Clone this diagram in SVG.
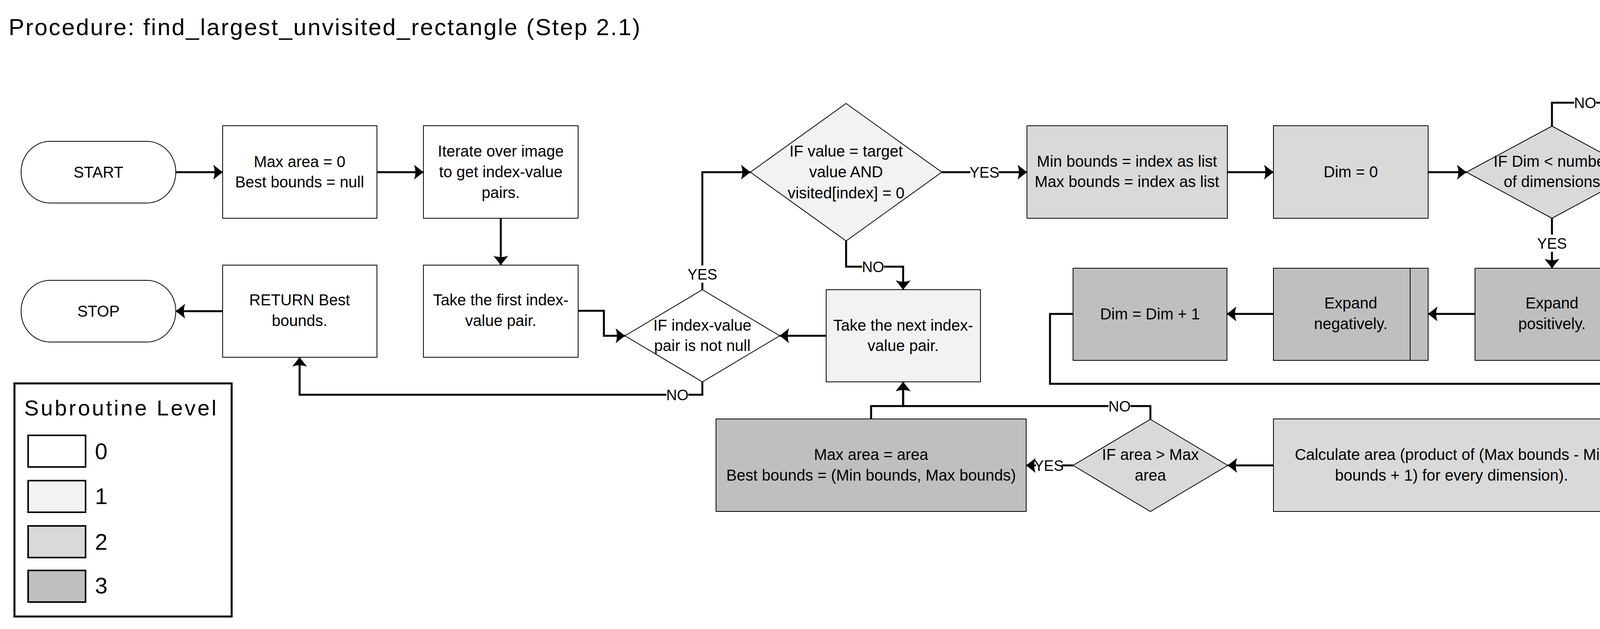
<svg xmlns="http://www.w3.org/2000/svg" width="4359" height="1611" viewBox="0 0 4359 1611">
<defs>
<style>
.t{font-family:"Liberation Sans",Arial,sans-serif;font-size:40px;text-anchor:middle;fill:#000}
.lb{font-family:"Liberation Sans",Arial,sans-serif;font-size:38px;text-anchor:middle;fill:#000}
.n{stroke:#000;stroke-width:2}
.l0{fill:#ffffff}.l1{fill:#f2f2f2}.l2{fill:#d9d9d9}.l3{fill:#bfbfbf}
.c{fill:none;stroke:#000;stroke-width:5;stroke-linejoin:miter}
.a{marker-end:url(#ah)}
.bg{fill:#fff}
.lg{stroke:#000;stroke-width:4}
.lt{font-family:"Liberation Sans",Arial,sans-serif;fill:#000}
</style>
<marker id="ah" markerUnits="userSpaceOnUse" markerWidth="28" markerHeight="40" refX="24" refY="20" orient="auto" overflow="visible">
<path d="M0,1 L24,20 L0,39 Q7,20 0,1 Z" fill="#000"/>
</marker>
</defs>
<rect width="4359" height="1611" fill="#fff"/>
<text class="lt" x="22" y="90" font-size="60" textLength="1617" lengthAdjust="spacing">Procedure: find_largest_unvisited_rectangle (Step 2.1)</text>

<g id="connectors">
<path class="c a" d="M450,441 L570,441"/>
<path class="c a" d="M965,441 L1084,441"/>
<path class="c a" d="M1282,559 L1282,679"/>
<path class="c a" d="M1480,796 L1546,796 L1546,860 L1600,860"/>
<path class="c a" d="M1798,742 L1798,441 L1921,441"/>
<path class="c a" d="M1798,978 L1798,1011 L767,1011 L767,915"/>
<path class="c a" d="M570,797 L450,797"/>
<path class="c a" d="M2166,617 L2166,683 L2312,683 L2312,742"/>
<path class="c a" d="M2411,441 L2629,441"/>
<path class="c a" d="M2115,860 L1996,860"/>
<path class="c a" d="M3142,441 L3260,441"/>
<path class="c a" d="M3656,441 L3754,441"/>
<path class="c a" d="M3973,559 L3973,687"/>
<path class="c a" d="M3776,804 L3656,804"/>
<path class="c a" d="M3260,804 L3141,804"/>
<path class="c a" d="M2747,804 L2688,804 L2688,983 L4230,983 L4230,441 L4192,441"/>
<path class="c a" d="M3973,323 L3973,263 L4315,263 L4315,1192 L4173,1192"/>
<path class="c a" d="M3260,1192 L3143,1192"/>
<path class="c a" d="M2747,1192 L2627,1192"/>
<path class="c a" d="M2945,1074 L2945,1040 L2312,1040 L2312,978"/>
<path class="c a" d="M2230,1073 L2230,1040 L2312,1040 L2312,978"/>
<rect class="bg" x="1763" y="680" width="70" height="44"/>
<text class="lb" x="1798" y="716">YES</text>
<rect class="bg" x="1706" y="990" width="56" height="42"/>
<text class="lb" x="1734" y="1025">NO</text>
<rect class="bg" x="2207" y="662" width="56" height="42"/>
<text class="lb" x="2235" y="697">NO</text>
<rect class="bg" x="2484" y="420" width="72" height="42"/>
<text class="lb" x="2520" y="455">YES</text>
<rect class="bg" x="3938" y="601" width="70" height="44"/>
<text class="lb" x="3973" y="637">YES</text>
<rect class="bg" x="4030" y="242" width="56" height="42"/>
<text class="lb" x="4058" y="277">NO</text>
<rect class="bg" x="2838" y="1019" width="56" height="42"/>
<text class="lb" x="2866" y="1054">NO</text>
<rect class="bg" x="2652" y="1171" width="66" height="42"/>
<text class="lb" x="2685" y="1206">YES</text>
</g>

<g id="start"><rect class="n l0" x="54" y="362" width="396" height="158" rx="74" ry="79"/><text class="t" x="252" y="455">START</text></g>
<g id="stop"><rect class="n l0" x="54" y="718" width="396" height="158" rx="74" ry="79"/><text class="t" x="252" y="811">STOP</text></g>
<g id="init"><rect class="n l0" x="570" y="322" width="395" height="237"/><text class="t" x="767" y="428">Max area = 0</text><text class="t" x="767" y="480">Best bounds = null</text></g>
<g id="iterate"><rect class="n l0" x="1084" y="322" width="396" height="237"/><text class="t" x="1282" y="401">Iterate over image</text><text class="t" x="1282" y="454">to get index-value</text><text class="t" x="1282" y="507">pairs.</text></g>
<g id="take-first"><rect class="n l0" x="1084" y="679" width="396" height="236"/><text class="t" x="1282" y="782">Take the first index-</text><text class="t" x="1282" y="835">value pair.</text></g>
<g id="return"><rect class="n l0" x="570" y="679" width="395" height="236"/><text class="t" x="767" y="782">RETURN Best</text><text class="t" x="767" y="835">bounds.</text></g>
<g id="if-not-null"><polygon class="n l0" points="1798,742 1996,860 1798,978 1600,860"/><text class="t" x="1798" y="847">IF index-value</text><text class="t" x="1798" y="899">pair is not null</text></g>
<g id="if-target"><polygon class="n l1" points="2166,265 2411,441 2166,617 1921,441"/><text class="t" x="2166" y="401">IF value = target</text><text class="t" x="2166" y="454">value AND</text><text class="t" x="2166" y="508">visited[index] = 0</text></g>
<g id="take-next"><rect class="n l1" x="2115" y="742" width="395" height="236"/><text class="t" x="2312" y="847">Take the next index-</text><text class="t" x="2312" y="899">value pair.</text></g>
<g id="bounds"><rect class="n l2" x="2629" y="322" width="513" height="237"/><text class="t" x="2885" y="427">Min bounds = index as list</text><text class="t" x="2885" y="479">Max bounds = index as list</text></g>
<g id="dim0"><rect class="n l2" x="3260" y="322" width="396" height="237"/><text class="t" x="3458" y="454">Dim = 0</text></g>
<g id="if-dim"><polygon class="n l2" points="3973,323 4192,441 3973,559 3754,441"/><text class="t" x="3973" y="427">IF Dim &lt; number</text><text class="t" x="3973" y="479">of dimensions</text></g>
<g id="expand-pos"><rect class="n l3" x="3776" y="687" width="395" height="236"/><line class="n" x1="4124" y1="687" x2="4124" y2="923"/><text class="t" x="3973" y="790">Expand</text><text class="t" x="3973" y="843">positively.</text></g>
<g id="expand-neg"><rect class="n l3" x="3260" y="687" width="396" height="236"/><line class="n" x1="3610" y1="687" x2="3610" y2="923"/><text class="t" x="3458" y="790">Expand</text><text class="t" x="3458" y="843">negatively.</text></g>
<g id="dim-inc"><rect class="n l3" x="2747" y="687" width="394" height="236"/><text class="t" x="2944" y="818">Dim = Dim + 1</text></g>
<g id="calc-area"><rect class="n l2" x="3260" y="1073" width="913" height="237"/><text class="t" x="3716" y="1178">Calculate area (product of (Max bounds - Min</text><text class="t" x="3716" y="1231">bounds + 1) for every dimension).</text></g>
<g id="if-area"><polygon class="n l2" points="2945,1074 3143,1192 2945,1310 2747,1192"/><text class="t" x="2945" y="1178">IF area &gt; Max</text><text class="t" x="2945" y="1231">area</text></g>
<g id="update-best"><rect class="n l3" x="1833" y="1073" width="794" height="237"/><text class="t" x="2230" y="1178">Max area = area</text><text class="t" x="2230" y="1231">Best bounds = (Min bounds, Max bounds)</text></g>

<g id="legend">
<rect x="37" y="982" width="556" height="597" fill="#fff" stroke="#000" stroke-width="5"/>
<text class="lt" x="62" y="1064" font-size="56" textLength="492" lengthAdjust="spacing">Subroutine Level</text>
<rect class="lg l0" x="72" y="1115" width="147" height="81"/>
<rect class="lg l1" x="72" y="1231" width="147" height="81"/>
<rect class="lg l2" x="72" y="1347" width="147" height="81"/>
<rect class="lg l3" x="72" y="1461" width="147" height="81"/>
<text class="lt" x="243" y="1176" font-size="58">0</text>
<text class="lt" x="243" y="1291" font-size="58">1</text>
<text class="lt" x="243" y="1408" font-size="58">2</text>
<text class="lt" x="243" y="1520" font-size="58">3</text>
</g>
</svg>
